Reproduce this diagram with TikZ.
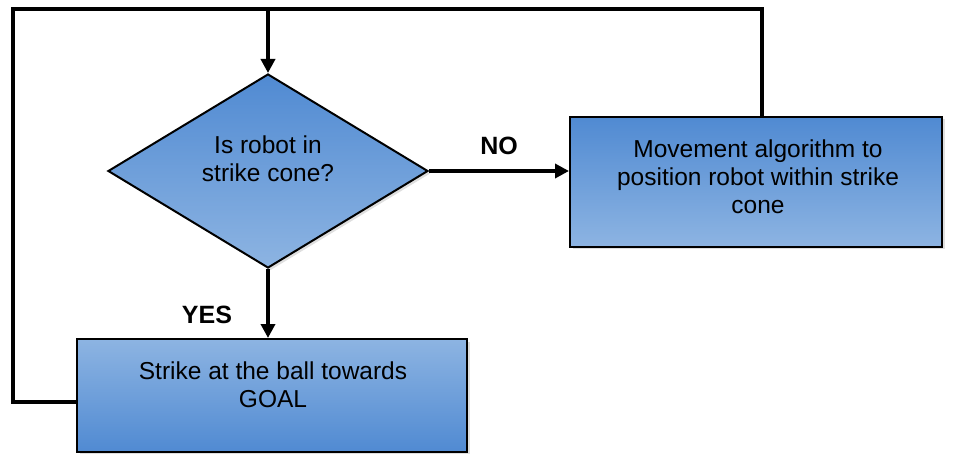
\documentclass[tikz,border=0pt]{standalone}
\usepackage{fontspec}
\setmainfont{Liberation Sans}
\usetikzlibrary{shapes.geometric,arrows.meta,shadows}
\definecolor{bluedark}{RGB}{80,138,210}
\definecolor{bluelight}{RGB}{141,180,226}
\begin{document}
\begin{tikzpicture}[x=1pt,y=-1pt,
  conn/.style={line width=4pt,line join=miter},
  arr/.style={conn,-{Triangle[length=14pt,width=14pt]}},
  shapebase/.style={draw=black,line width=2pt,inner sep=0pt,
    drop shadow={shadow xshift=2.5pt,shadow yshift=-2.5pt,opacity=0.25}},
  procbox/.style={shapebase,rectangle},
  decision/.style={shapebase,diamond,aspect=1.65},
  darktop/.style={top color=bluedark,bottom color=bluelight},
  lighttop/.style={top color=bluelight,bottom color=bluedark},
  boxtext/.style={align=center,font=\fontsize{24.5}{28}\selectfont,inner sep=0pt},
  lbl/.style={font=\bfseries\fontsize{25}{28}\selectfont,inner sep=0pt}
]
\useasboundingbox (0,0) rectangle (953,454);

% shapes
\node[decision,darktop,minimum width=320pt,minimum height=194pt] (dec) at (268,171) {};
\node[boxtext] (dectext) at (268,159) {Is robot in\\strike cone?};

\node[procbox,darktop,minimum width=372pt,minimum height=130pt] (move) at (756,182) {};
\node[boxtext] (movetext) at (758,177) {Movement algorithm to\\position robot within strike\\cone};

\node[procbox,lighttop,minimum width=390pt,minimum height=113pt] (strike) at (272,395.5) {};
\node[boxtext] (striketext) at (273,385) {Strike at the ball towards\\GOAL};

% coordinates of the loop
\coordinate (tl) at (13,9);
\coordinate (tj) at (268,9);
\coordinate (tr) at (762,9);

% connectors
\draw[arr] (dec.east) -- node[lbl,above=14pt] (nolbl) {NO} (move.west |- dec.east);
\draw[arr] (dec.south) -- (strike.north -| dec.south);
\node[lbl] (yeslbl) at (207,315) {YES};

\draw[conn] ([xshift=6pt]move.north) -- (tr) -- (tl) -- (tl |- {(0,402)}) -- ([yshift=-6.5pt]strike.west);
\draw[arr] (tj) -- (dec.north);
\end{tikzpicture}
\end{document}
